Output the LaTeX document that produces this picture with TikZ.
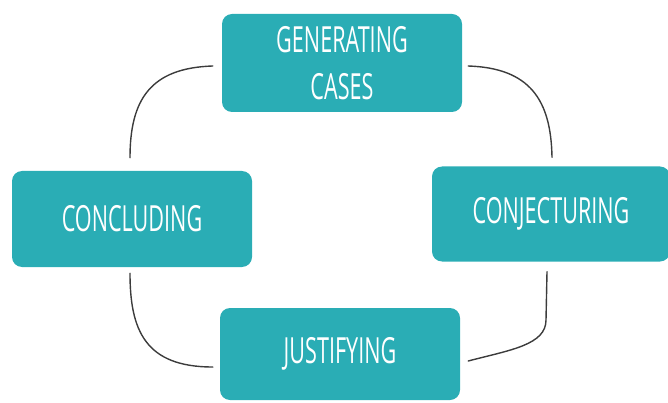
\documentclass[tikz,border=0pt]{standalone}
\usepackage{fontspec}
\setmainfont{Open Sans}[FakeStretch=0.6]
\definecolor{stageteal}{HTML}{2AADB5}
\definecolor{linkgray}{HTML}{3C3C3C}
\usetikzlibrary{positioning}

\begin{document}
\begin{tikzpicture}[x=1pt, y=-1pt,
        stage/.style={fill=stageteal, rounded corners=10pt,
                      minimum width=240pt, minimum height=96pt,
                      text=white, align=center,
                      font=\fontsize{36}{47}\selectfont},
        link/.style={linkgray, line width=1.4pt, line cap=round}
      ]
        \useasboundingbox (0,0) rectangle (668,403);

        \node[stage, minimum height=98pt] (gen) at (342,63) {GENERATING\\CASES};
        \node[stage] (conc) at (132,219) {CONCLUDING};
        \node[stage, minimum width=238pt, minimum height=95pt] (conj) at (551,214) {CONJECTURING};
        \node[stage, minimum height=92pt] (just) at (340,354) {JUSTIFYING};

        % connectors round the cycle
        \draw[link] ([shift={(-9pt,-3pt)}]gen.west)
            .. controls (150,68) and (130,100) .. ([shift={(-2pt,13pt)}]conc.north);
        \draw[link] ([shift={(6pt,-3pt)}]gen.east)
            .. controls (530,68) and (551,100) .. ([shift={(1pt,9pt)}]conj.north);
        \draw[link] ([shift={(-2pt,-6pt)}]conc.south)
            .. controls (130,330) and (145,367) .. ([shift={(-7pt,-13pt)}]just.west);
        \draw[link] ([shift={(-4pt,-10pt)}]conj.south)
            -- (546,320) .. controls (546,345) and (510,350) .. ([shift={(8pt,-7pt)}]just.east);
      \end{tikzpicture}
\end{document}
